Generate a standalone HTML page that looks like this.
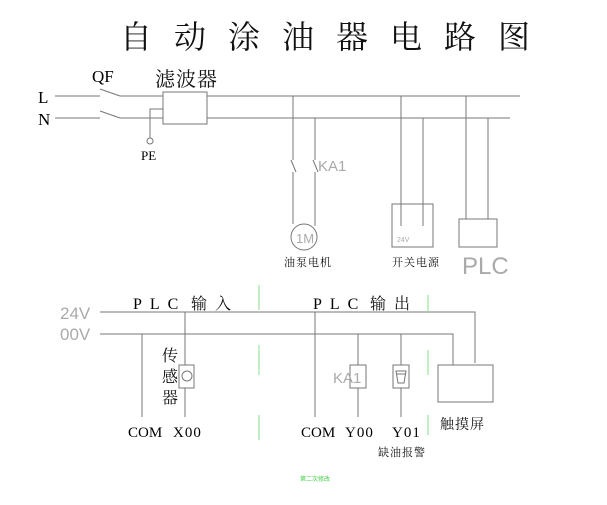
<!DOCTYPE html>
<html><head><meta charset="utf-8"><style>
html,body{margin:0;padding:0;background:#fff;width:607px;height:505px;overflow:hidden}
svg{display:block}
.s{font-family:"Liberation Serif","Noto Serif CJK SC",serif;fill:#000}
.c{font-family:"Noto Serif CJK SC","Noto Sans CJK SC",serif;fill:#111}
.g{font-family:"Liberation Sans",sans-serif;fill:#aaa}
</style></head><body>
<svg width="607" height="505" viewBox="0 0 607 505" xmlns="http://www.w3.org/2000/svg">
<g class="c" font-size="32" text-anchor="middle">
<text x="136" y="48">自</text><text x="190" y="48">动</text><text x="244" y="48">涂</text><text x="298" y="48">油</text>
<text x="352" y="48">器</text><text x="406" y="48">电</text><text x="460" y="48">路</text><text x="514" y="48">图</text>
</g>
<g stroke="#777" stroke-width="1" fill="none">
<!-- L/N lines -->
<line x1="55" y1="96" x2="100" y2="96"/><line x1="100" y1="89" x2="120" y2="96"/><line x1="120" y1="96" x2="520" y2="96"/>
<line x1="55" y1="118" x2="100" y2="118"/><line x1="100" y1="111" x2="120" y2="118"/><line x1="120" y1="118" x2="510" y2="118"/>
<rect x="163" y="92" width="44" height="32" fill="#fff"/>
<polyline points="163,109 150,109 150,138"/>
<circle cx="150" cy="141" r="3"/>
<!-- motor -->
<line x1="293" y1="96" x2="293" y2="160"/><line x1="291" y1="160" x2="296" y2="172"/><line x1="293" y1="172" x2="293" y2="224"/>
<line x1="315" y1="118" x2="315" y2="160"/><line x1="313" y1="160" x2="318" y2="172"/><line x1="315" y1="172" x2="315" y2="226"/>
<circle cx="304" cy="237" r="13"/>
<!-- PSU -->
<rect x="392" y="204" width="41" height="43"/>
<line x1="401" y1="96" x2="401" y2="226"/><line x1="423" y1="118" x2="423" y2="226"/>
<!-- PLC -->
<rect x="459" y="219" width="38" height="28"/>
<line x1="466" y1="96" x2="466" y2="219"/><line x1="488" y1="118" x2="488" y2="219"/>
<!-- bottom -->
<polyline points="100,312 475,312 475,363"/>
<polyline points="100,334 453,334 453,365"/>
<rect x="438" y="365" width="55" height="37"/>
<line x1="142" y1="334" x2="142" y2="417"/>
<line x1="185" y1="312" x2="185" y2="417"/>
<rect x="179" y="365" width="15" height="23" fill="#fff"/>
<circle cx="187" cy="376" r="5"/>
<line x1="315" y1="312" x2="315" y2="417"/>
<line x1="358" y1="334" x2="358" y2="417"/>
<rect x="350" y="365" width="16" height="23" fill="#fff"/>
<line x1="401" y1="334" x2="401" y2="417"/>
<rect x="393" y="365" width="16" height="23" fill="#fff"/>
<path d="M396,371 h10 l-2,12 h-6 z M396,374 h10"/>
</g>
<g stroke="#8d8" stroke-width="1">
<line x1="259" y1="285" x2="259" y2="310"/><line x1="259" y1="345" x2="259" y2="375"/><line x1="259" y1="415" x2="259" y2="440"/>
<line x1="428" y1="295" x2="428" y2="312"/><line x1="428" y1="350" x2="428" y2="375"/><line x1="428" y1="415" x2="428" y2="435"/>
</g>
<g class="s" font-size="17">
<text x="38" y="103">L</text><text x="38" y="125">N</text>
<text x="92" y="82">QF</text>
<text x="141" y="160" font-size="13">PE</text>
</g>
<text class="c" x="155" y="86" font-size="20" letter-spacing="1">滤波器</text>
<text class="g" x="318" y="171" font-size="15">KA1</text>
<text class="g" x="296" y="243" font-size="13">1M</text>
<text class="c" x="284" y="266" font-size="11" letter-spacing="1">油泵电机</text>
<text class="g" x="397" y="242" font-size="7">24V</text>
<text class="c" x="392" y="266" font-size="11" letter-spacing="1">开关电源</text>
<text class="g" x="462" y="274" font-size="24">PLC</text>
<text class="g" x="60" y="319" font-size="17">24V</text>
<text class="g" x="60" y="340" font-size="17">00V</text>
<text class="s" x="133" y="309" font-size="16" letter-spacing="8">PLC</text>
<text class="c" x="191" y="309" font-size="16" letter-spacing="8">输入</text>
<text class="s" x="313" y="309" font-size="16" letter-spacing="8">PLC</text>
<text class="c" x="370" y="309" font-size="16" letter-spacing="8">输出</text>
<g class="c" font-size="16"><text x="162" y="361">传</text><text x="162" y="382">感</text><text x="162" y="403">器</text></g>
<g class="s" font-size="15">
<text x="128" y="437">COM</text><text x="173" y="437" letter-spacing="1">X00</text>
<text x="301" y="437">COM</text><text x="345" y="437" letter-spacing="1">Y00</text><text x="392" y="437" letter-spacing="1">Y01</text>
</g>
<text class="g" x="333" y="383" font-size="15">KA1</text>
<text class="c" x="440" y="429" font-size="14" letter-spacing="1">触摸屏</text>
<text class="c" x="378" y="456" font-size="11" letter-spacing="1">缺油报警</text>
<text x="300" y="481" font-size="6" fill="#4c4" font-family="Noto Sans CJK SC,sans-serif">第二次修改</text>
</svg>
</body></html>
